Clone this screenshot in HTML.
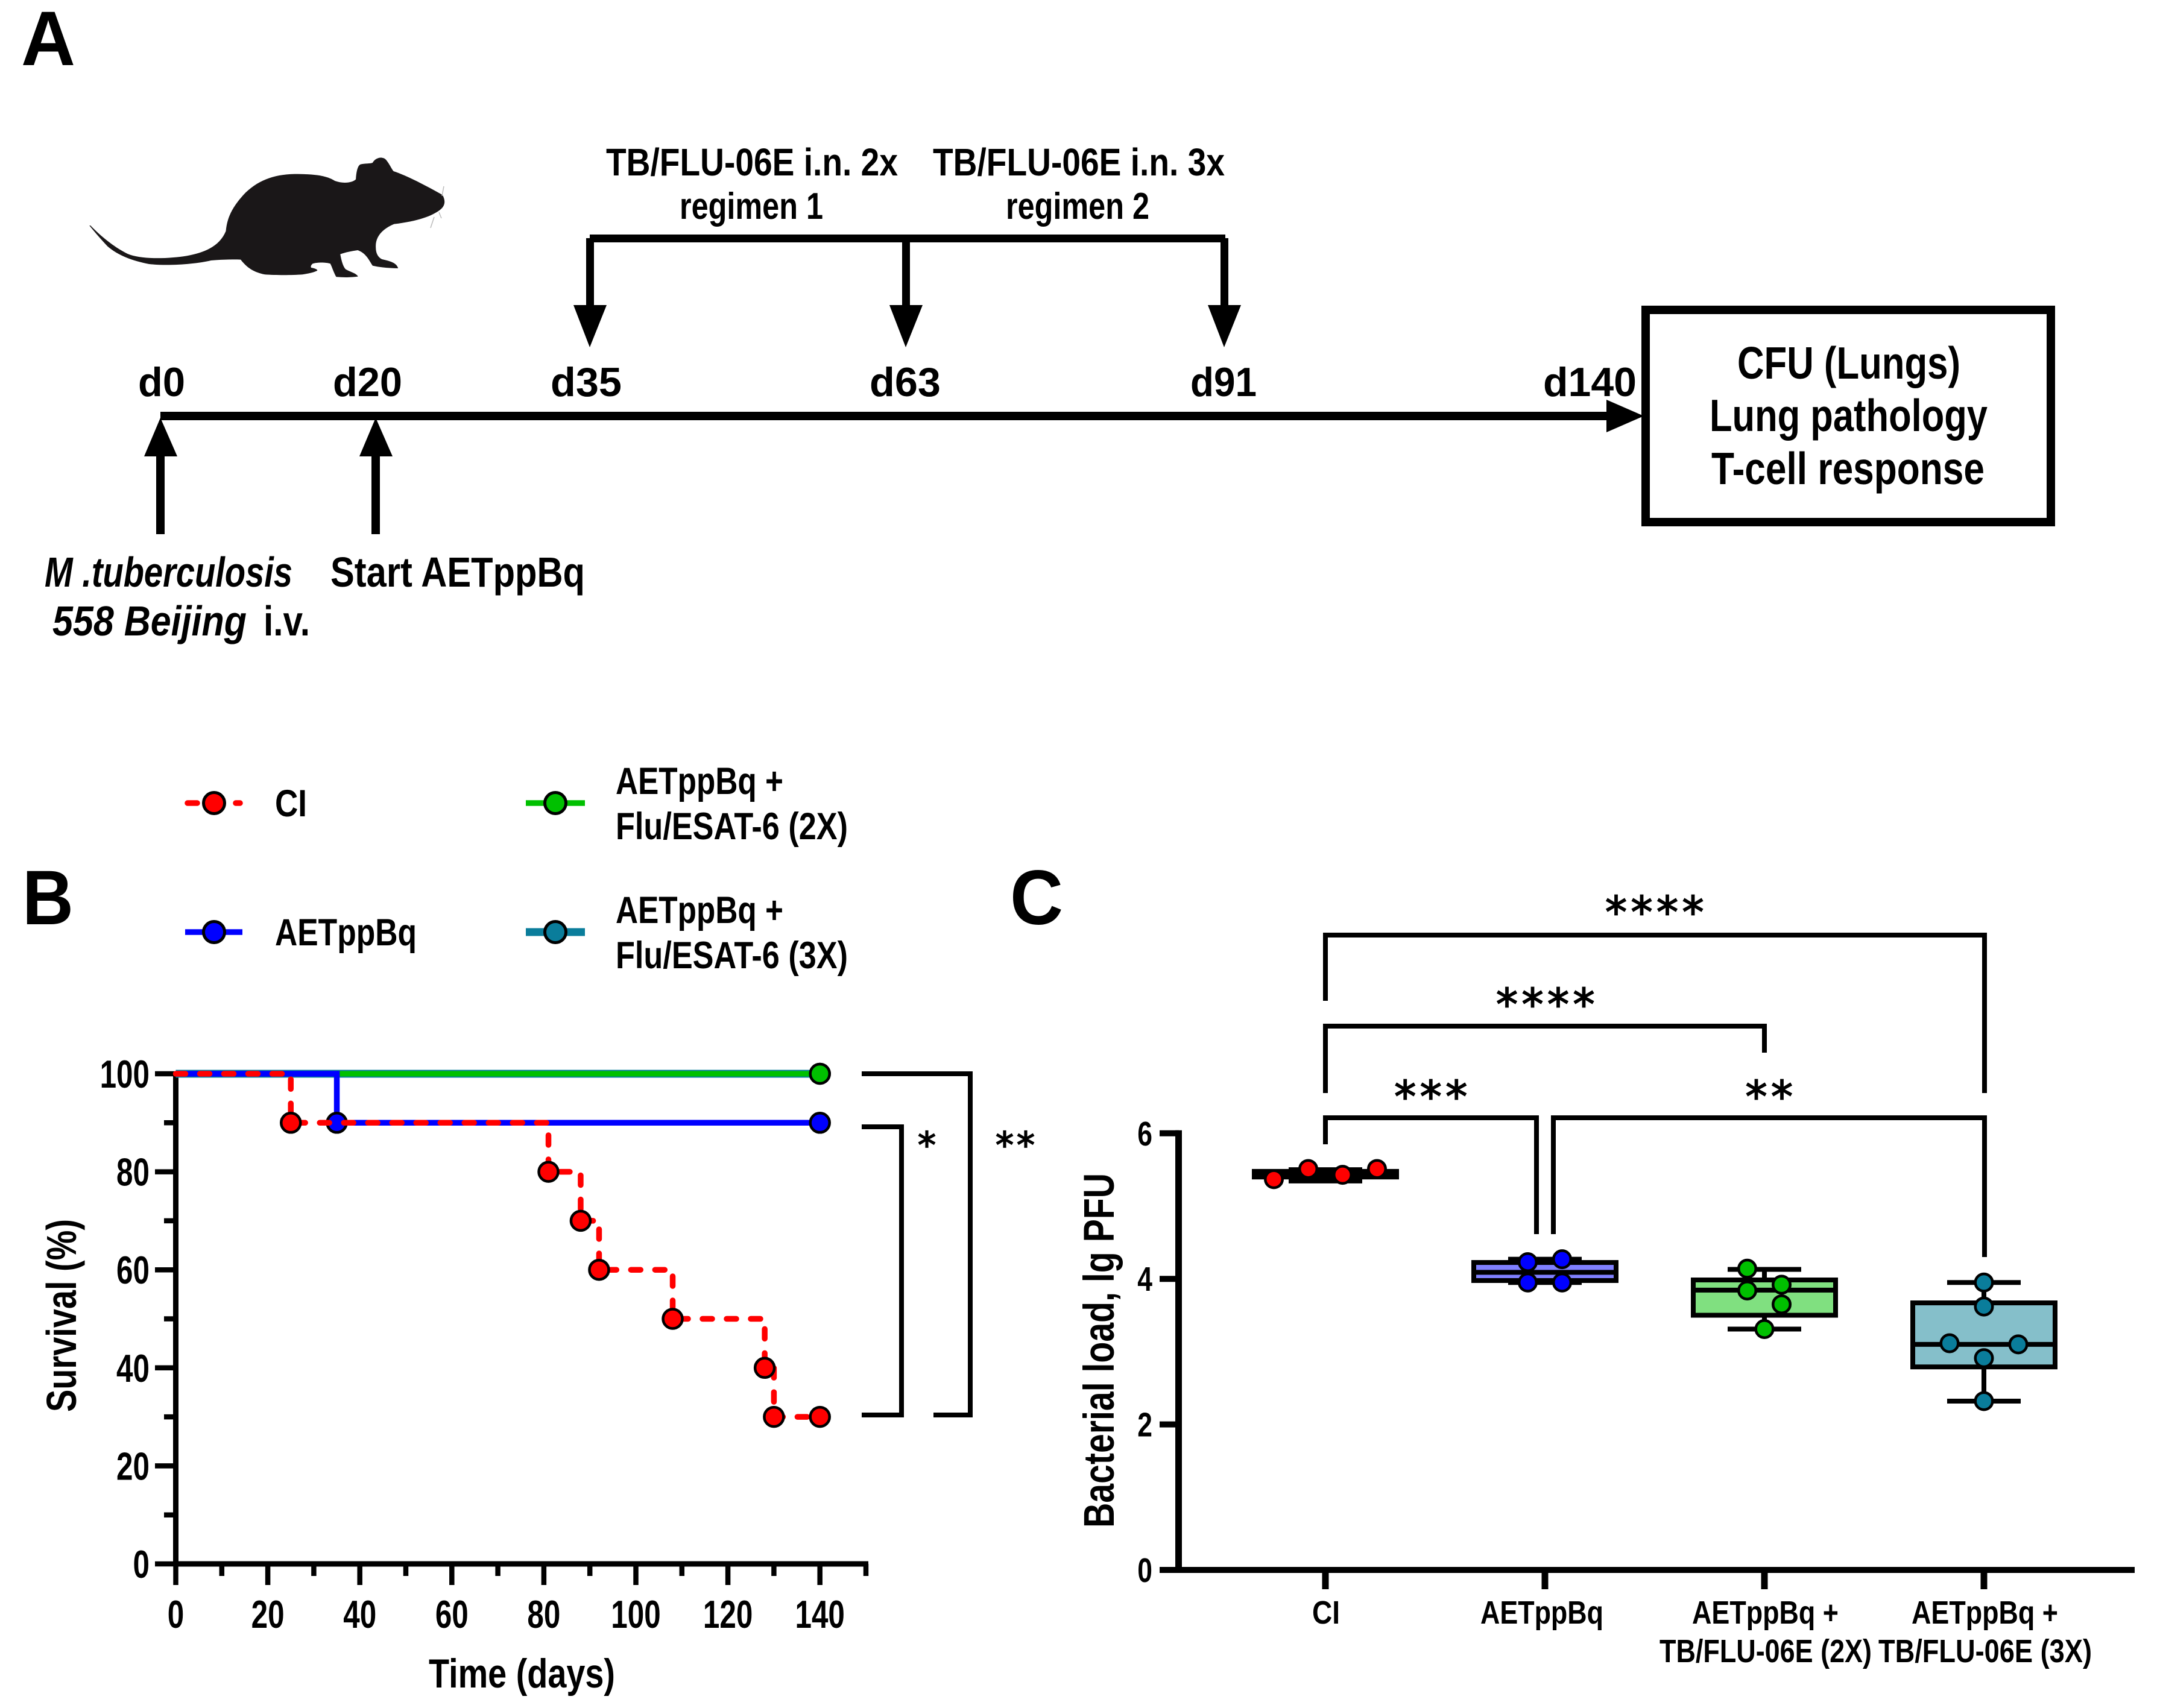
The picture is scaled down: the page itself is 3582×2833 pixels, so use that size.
<!DOCTYPE html>
<html lang="en">
<head>
<meta charset="utf-8">
<title>TB/FLU-06E study figure</title>
<style>
html,body{margin:0;padding:0;background:#fff}
svg{display:block}
text{font-family:"Liberation Sans",Arial,sans-serif;font-weight:700;fill:#000}
text.star{font-family:"DejaVu Sans",sans-serif;font-weight:400;stroke:#000;stroke-width:1.8}
</style>
</head>
<body>
<svg id="figure" xmlns="http://www.w3.org/2000/svg" width="3582" height="2833" viewBox="0 0 3582 2833">
<rect width="3582" height="2833" fill="#fff"/>

<!-- PANEL A -->
<g id="panel-a">
<text x="35" y="108" font-size="128" textLength="90" lengthAdjust="spacingAndGlyphs">A</text>
<path transform="translate(100 220) scale(.4464 .3333)" fill="#1a1718" d="M112 462C150 515 200 570 250 603C300 632 400 628 470 613C530 598 590 570 615 490C620 420 640 370 680 310C730 240 790 208 870 206C950 206 990 215 1020 240C1050 255 1085 250 1098 232C1100 190 1105 165 1115 158C1135 152 1150 155 1160 150C1170 125 1195 115 1210 135C1225 160 1230 180 1238 192C1290 215 1360 265 1420 310C1432 340 1430 365 1410 385C1380 415 1330 440 1240 455C1195 480 1170 520 1172 570C1172 600 1180 620 1195 630C1230 640 1250 650 1255 675C1220 675 1185 670 1160 662C1145 630 1135 600 1105 585C1080 590 1060 595 1040 605C1045 640 1050 665 1060 680C1080 695 1100 700 1106 716C1070 722 1050 720 1025 718C1015 695 1010 670 1003 652C985 645 955 645 938 652C930 660 930 668 932 672C945 675 955 680 955 686C945 695 925 700 900 706C860 710 800 710 760 706C720 695 695 675 670 632C640 630 600 632 560 636C500 655 400 664 330 654C270 638 215 612 175 565C150 530 128 495 108 462Z"/>
<g stroke="#bbb" stroke-width="1.5" fill="none">
<path d="M733 325L736 309"/>
<path d="M720 360L714 378M728 352L732 362"/>
</g>

<text x="1005" y="291" font-size="64" textLength="484" lengthAdjust="spacingAndGlyphs">TB/FLU-06E i.n. 2x</text>
<text x="1127" y="363" font-size="62" textLength="238" lengthAdjust="spacingAndGlyphs">regimen 1</text>
<text x="1547" y="291" font-size="64" textLength="484" lengthAdjust="spacingAndGlyphs">TB/FLU-06E i.n. 3x</text>
<text x="1668" y="363" font-size="62" textLength="238" lengthAdjust="spacingAndGlyphs">regimen 2</text>

<g fill="#000">
<rect x="978" y="389" width="1054" height="13"/>
<rect x="972" y="395" width="13" height="115"/>
<polygon points="951,506 1006,506 978,576"/>
<rect x="1496" y="395" width="13" height="115"/>
<polygon points="1475,506 1530,506 1502,576"/>
<rect x="2024" y="395" width="13" height="115"/>
<polygon points="2003,506 2058,506 2030,576"/>
</g>

<text x="229" y="657" font-size="68" textLength="78" lengthAdjust="spacingAndGlyphs">d0</text>
<text x="552" y="657" font-size="68" textLength="115" lengthAdjust="spacingAndGlyphs">d20</text>
<text x="913" y="657" font-size="68" textLength="118" lengthAdjust="spacingAndGlyphs">d35</text>
<text x="1442" y="657" font-size="68" textLength="118" lengthAdjust="spacingAndGlyphs">d63</text>
<text x="1974" y="657" font-size="68" textLength="110" lengthAdjust="spacingAndGlyphs">d91</text>
<text x="2559" y="657" font-size="68" textLength="155" lengthAdjust="spacingAndGlyphs">d140</text>

<rect x="266" y="683" width="2400" height="14"/>
<polygon points="2664,663 2726,690 2664,717"/>
<rect x="259" y="750" width="14" height="136"/>
<polygon points="239,757 294,757 266,693"/>
<rect x="616" y="750" width="14" height="136"/>
<polygon points="596,757 651,757 623,693"/>

<text x="74" y="973" font-size="70" font-style="italic" textLength="411" lengthAdjust="spacingAndGlyphs">M .tuberculosis</text>
<text x="87" y="1054" font-size="70" font-style="italic" textLength="322" lengthAdjust="spacingAndGlyphs">558 Beijing</text>
<text x="437" y="1054" font-size="70" textLength="77" lengthAdjust="spacingAndGlyphs">i.v.</text>
<text x="548" y="973" font-size="70" textLength="422" lengthAdjust="spacingAndGlyphs">Start AETppBq</text>

<rect x="2729" y="514" width="672" height="352" fill="#fff" stroke="#000" stroke-width="14"/>
<text x="2881" y="628" font-size="75" textLength="370" lengthAdjust="spacingAndGlyphs">CFU (Lungs)</text>
<text x="2835" y="715" font-size="75" textLength="461" lengthAdjust="spacingAndGlyphs">Lung pathology</text>
<text x="2838" y="803" font-size="75" textLength="453" lengthAdjust="spacingAndGlyphs">T-cell response</text>
</g>

<!-- PANEL B static -->
<g id="panel-b">
<text x="37" y="1533" font-size="128" textLength="85" lengthAdjust="spacingAndGlyphs">B</text>
<g>
<g>
<line x1="311" y1="1332" x2="398" y2="1332" stroke="#f00" stroke-width="9.5" stroke-dasharray="16 24" stroke-linecap="round"/>
<circle cx="355" cy="1332" r="17.5" fill="#f00" stroke="#000" stroke-width="5"/>
<text x="456" y="1354" font-size="63" textLength="53" lengthAdjust="spacingAndGlyphs">CI</text>
</g>
<g>
<line x1="307" y1="1546" x2="402" y2="1546" stroke="#00f" stroke-width="9.5"/>
<circle cx="355" cy="1546" r="17.5" fill="#00f" stroke="#000" stroke-width="5"/>
<text x="456" y="1568" font-size="63" textLength="235" lengthAdjust="spacingAndGlyphs">AETppBq</text>
</g>
<g>
<line x1="872" y1="1332" x2="970" y2="1332" stroke="#00c000" stroke-width="9.5"/>
<circle cx="921" cy="1332" r="17.5" fill="#00c000" stroke="#000" stroke-width="5"/>
<text x="1021" y="1317" font-size="63" textLength="278" lengthAdjust="spacingAndGlyphs">AETppBq +</text>
<text x="1021" y="1392" font-size="63" textLength="385" lengthAdjust="spacingAndGlyphs">Flu/ESAT-6 (2X)</text>
</g>
<g>
<line x1="872" y1="1546" x2="970" y2="1546" stroke="#0a7d9b" stroke-width="13"/>
<circle cx="921" cy="1546" r="17.5" fill="#0a7d9b" stroke="#000" stroke-width="5"/>
<text x="1021" y="1531" font-size="63" textLength="278" lengthAdjust="spacingAndGlyphs">AETppBq +</text>
<text x="1021" y="1606" font-size="63" textLength="385" lengthAdjust="spacingAndGlyphs">Flu/ESAT-6 (3X)</text>
</g>
</g>
<text transform="translate(126 2342) rotate(-90)" font-size="70" textLength="320" lengthAdjust="spacingAndGlyphs">Survival (%)</text>
<text x="711" y="2799" font-size="68" textLength="309" lengthAdjust="spacingAndGlyphs">Time (days)</text>
<g id="b-axes"></g>
<g id="b-series"></g>
<path d="M1429 1869H1495V2347H1429" fill="none" stroke="#000" stroke-width="8"/>
<path d="M1429 1781H1609V2347H1548" fill="none" stroke="#000" stroke-width="8"/>
<text class="star" x="1537" y="1920" font-size="60" text-anchor="middle">*</text>
<text class="star" x="1686" y="1920" font-size="60" letter-spacing="5" text-anchor="middle">**</text>
</g>

<!-- PANEL C static -->
<g id="panel-c">
<text x="1675" y="1533" font-size="128" textLength="88" lengthAdjust="spacingAndGlyphs">C</text>
<text transform="translate(1847 2534) rotate(-90)" font-size="71" textLength="588" lengthAdjust="spacingAndGlyphs">Bacterial load, lg PFU</text>
<g id="c-plot"></g>
<g fill="none" stroke="#000" stroke-width="8">
<path d="M2198 1660V1551H3291V1813"/>
<path d="M2198 1813V1702H2926V1746"/>
<path d="M2198 1898V1854H2548V2047"/>
<path d="M2576 2047V1854H3291V2085"/>
</g>
<text class="star" x="2747" y="1538" font-size="72" letter-spacing="6.5" text-anchor="middle">****</text>
<text class="star" x="2566" y="1691" font-size="72" letter-spacing="6.5" text-anchor="middle">****</text>
<text class="star" x="2376" y="1844" font-size="72" letter-spacing="6.5" text-anchor="middle">***</text>
<text class="star" x="2937" y="1844" font-size="72" letter-spacing="6.5" text-anchor="middle">**</text>
<text x="2176" y="2693" font-size="54" textLength="46" lengthAdjust="spacingAndGlyphs">CI</text>
<text x="2455" y="2693" font-size="54" textLength="204" lengthAdjust="spacingAndGlyphs">AETppBq</text>
<text x="2806" y="2693" font-size="54" textLength="243" lengthAdjust="spacingAndGlyphs">AETppBq +</text>
<text x="2752" y="2757" font-size="54" textLength="352" lengthAdjust="spacingAndGlyphs">TB/FLU-06E (2X)</text>
<text x="3170" y="2693" font-size="54" textLength="243" lengthAdjust="spacingAndGlyphs">AETppBq +</text>
<text x="3115" y="2757" font-size="54" textLength="354" lengthAdjust="spacingAndGlyphs">TB/FLU-06E (3X)</text>
</g>
</svg>

<script>
// ---- Panel B data ----
const survivalXTicks = [0, 20, 40, 60, 80, 100, 120, 140];
const survivalXMinorTicks = [10, 30, 50, 70, 90, 110, 130, 150];
const survivalYTicks = [0, 20, 40, 60, 80, 100];
const survivalYMinorTicks = [10, 30, 50, 70, 90];
const ciTimes = [0, 25, 81, 88, 92, 108, 128, 130, 140];
const ciSurvival = [100, 90, 80, 70, 60, 50, 40, 30, 30];
const aetTimes = [0, 35, 140];
const aetSurvival = [100, 90, 90];
const twoXTimes = [0, 140];
const twoXSurvival = [100, 100];
const threeXTimes = [0, 140];
const threeXSurvival = [100, 100];

// ---- Panel C data ----
const loadYTicks = [0, 2, 4, 6];
const ciLoad = [5.37, 5.51, 5.43, 5.51];
const ciSlots = [-1.5, -0.5, 0.5, 1.5];
const aetLoad = [4.23, 4.27, 3.95, 3.95];
const aetSlots = [-0.5, 0.5, -0.5, 0.5];
const twoXLoad = [4.14, 3.84, 3.92, 3.65, 3.31];
const twoXSlots = [-0.5, -0.5, 0.5, 0.5, 0];
const threeXLoad = [3.95, 3.62, 3.115, 3.10, 2.91, 2.32];
const threeXSlots = [0, 0, -1, 1, 0, 0];
const boxMin = [5.345, 3.95, 3.31, 2.32];
const boxQ1 = [5.40, 3.977, 3.50, 2.79];
const boxMedian = [5.45, 4.09, 3.845, 3.10];
const boxQ3 = [5.477, 4.225, 3.985, 3.67];
const boxMax = [5.50, 4.27, 4.13, 3.95];

const NS = 'http://www.w3.org/2000/svg';
function make(parent, tag, attrs, name) {
  const el = document.createElementNS(NS, tag);
  for (const k in attrs) el.setAttribute(k, attrs[k]);
  
  
  parent.appendChild(el);
  return el;
}

// Panel B axis functions
const xB = t => 291.5 + t * 7.63;
const yB = v => 2594 - v * 8.13;
const bAxes = document.getElementById('b-axes');
const bSeries = document.getElementById('b-series');

make(bAxes, 'line', {x1: xB(0), y1: yB(100) - 4, x2: xB(0), y2: yB(0) + 4, stroke: '#000', 'stroke-width': 9}, 'y-axis-line');
make(bAxes, 'line', {x1: xB(0) - 4, y1: yB(0), x2: xB(150) + 4, y2: yB(0), stroke: '#000', 'stroke-width': 9}, 'x-axis-line');
survivalYTicks.forEach(v => {
  make(bAxes, 'line', {x1: 257, y1: yB(v), x2: xB(0), y2: yB(v), stroke: '#000', 'stroke-width': 8.5}, 'y-tick');
  const lab = make(bAxes, 'text', {transform: `translate(248 ${yB(v) + 23}) scale(.76 1)`, 'font-size': 65, 'text-anchor': 'end'}, 'y-tick-label');
  lab.textContent = v;
});
survivalYMinorTicks.forEach(v => {
  make(bAxes, 'line', {x1: 272, y1: yB(v), x2: xB(0), y2: yB(v), stroke: '#000', 'stroke-width': 8.5}, 'y-minor-tick');
});
survivalXTicks.forEach(t => {
  make(bAxes, 'line', {x1: xB(t), y1: yB(0), x2: xB(t), y2: 2629, stroke: '#000', 'stroke-width': 8.5}, 'x-tick');
  const lab = make(bAxes, 'text', {transform: `translate(${xB(t)} 2700) scale(.76 1)`, 'font-size': 65, 'text-anchor': 'middle'}, 'x-tick-label');
  lab.textContent = t;
});
survivalXMinorTicks.forEach(t => {
  make(bAxes, 'line', {x1: xB(t), y1: yB(0), x2: xB(t), y2: 2614, stroke: '#000', 'stroke-width': 8.5}, 'x-minor-tick');
});

function stepPath(times, values) {
  let d = `M${xB(times[0])} ${yB(values[0])}`;
  for (let i = 1; i < times.length; i++) d += `H${xB(times[i])}V${yB(values[i])}`;
  return d;
}
function drawSeries(times, values, color, width, dash, name) {
  const attrs = {d: stepPath(times, values), fill: 'none', stroke: color, 'stroke-width': width};
  if (dash) {
    attrs['stroke-dasharray'] = dash;
    attrs['stroke-linecap'] = 'round';
  }
  make(bSeries, 'path', attrs, name + '-line');
}
function drawMarkers(times, values, color, name) {
  times.forEach((t, i) => {
    if (t === 0) return;
    make(bSeries, 'circle', {cx: xB(t), cy: yB(values[i]), r: 16, fill: color, stroke: '#000', 'stroke-width': 4.5}, name + '-point');
  });
}
drawSeries(threeXTimes, threeXSurvival, '#0a7d9b', 13, null, 'survival-3x');
drawMarkers(threeXTimes, threeXSurvival, '#0a7d9b', 'survival-3x');
drawSeries(twoXTimes, twoXSurvival, '#00c000', 9, null, 'survival-2x');
drawMarkers(twoXTimes, twoXSurvival, '#00c000', 'survival-2x');
drawSeries(aetTimes, aetSurvival, '#0000ff', 9.5, null, 'survival-aetppbq');
drawMarkers(aetTimes, aetSurvival, '#0000ff', 'survival-aetppbq');
drawSeries(ciTimes, ciSurvival, '#ff0000', 9.5, '16 24', 'survival-ci');
drawMarkers(ciTimes, ciSurvival, '#ff0000', 'survival-ci');

// Panel C axis functions
const xC = (g, slot) => 2198 + g * 364 + slot * 57;
const yC = v => 2604 - v * 120.7;
const cPlot = document.getElementById('c-plot');

make(cPlot, 'line', {x1: 1954.5, y1: yC(6) - 5, x2: 1954.5, y2: yC(0) + 5, stroke: '#000', 'stroke-width': 11}, 'y-axis-line');
make(cPlot, 'line', {x1: 1923, y1: yC(0), x2: 3540, y2: yC(0), stroke: '#000', 'stroke-width': 10}, 'x-axis-line');
loadYTicks.forEach(v => {
  make(cPlot, 'line', {x1: 1923, y1: yC(v), x2: 1955, y2: yC(v), stroke: '#000', 'stroke-width': 10}, 'y-tick');
  const lab = make(cPlot, 'text', {transform: `translate(1911 ${yC(v) + 20}) scale(.78 1)`, 'font-size': 57, 'text-anchor': 'end'}, 'y-tick-label');
  lab.textContent = v;
});
[0, 1, 2, 3].forEach(g => {
  make(cPlot, 'line', {x1: xC(g, 0), y1: yC(0), x2: xC(g, 0), y2: 2636, stroke: '#000', 'stroke-width': 11}, 'x-tick');
});

const boxFills = ['#ff8080', '#8080ff', '#80e080', '#85bfca'];
const pointFills = ['#ff0000', '#0000ff', '#00c000', '#0a7d9b'];
const groupLoads = [ciLoad, aetLoad, twoXLoad, threeXLoad];
const groupSlots = [ciSlots, aetSlots, twoXSlots, threeXSlots];
const boxW = 236, capW = 122;
boxFills.forEach((fill, g) => {
  const cx = xC(g, 0);
  make(cPlot, 'line', {x1: cx, y1: yC(boxMax[g]), x2: cx, y2: yC(boxMin[g]), stroke: '#000', 'stroke-width': 8}, 'box-whisker');
  make(cPlot, 'line', {x1: cx - capW / 2, y1: yC(boxMax[g]), x2: cx + capW / 2, y2: yC(boxMax[g]), stroke: '#000', 'stroke-width': 8}, 'box-whisker-cap-top');
  make(cPlot, 'line', {x1: cx - capW / 2, y1: yC(boxMin[g]), x2: cx + capW / 2, y2: yC(boxMin[g]), stroke: '#000', 'stroke-width': 8}, 'box-whisker-cap-bottom');
  make(cPlot, 'rect', {x: cx - boxW / 2, y: yC(boxQ3[g]), width: boxW, height: yC(boxQ1[g]) - yC(boxQ3[g]), fill: fill, stroke: '#000', 'stroke-width': 8}, 'box');
  make(cPlot, 'line', {x1: cx - boxW / 2, y1: yC(boxMedian[g]), x2: cx + boxW / 2, y2: yC(boxMedian[g]), stroke: '#000', 'stroke-width': 8}, 'box-median');
});
groupLoads.forEach((vals, g) => {
  vals.forEach((v, i) => {
    make(cPlot, 'circle', {cx: xC(g, groupSlots[g][i]), cy: yC(v), r: 14.25, fill: pointFills[g], stroke: '#000', 'stroke-width': 4.5}, 'load-point');
  });
});
</script>
</body>
</html>
